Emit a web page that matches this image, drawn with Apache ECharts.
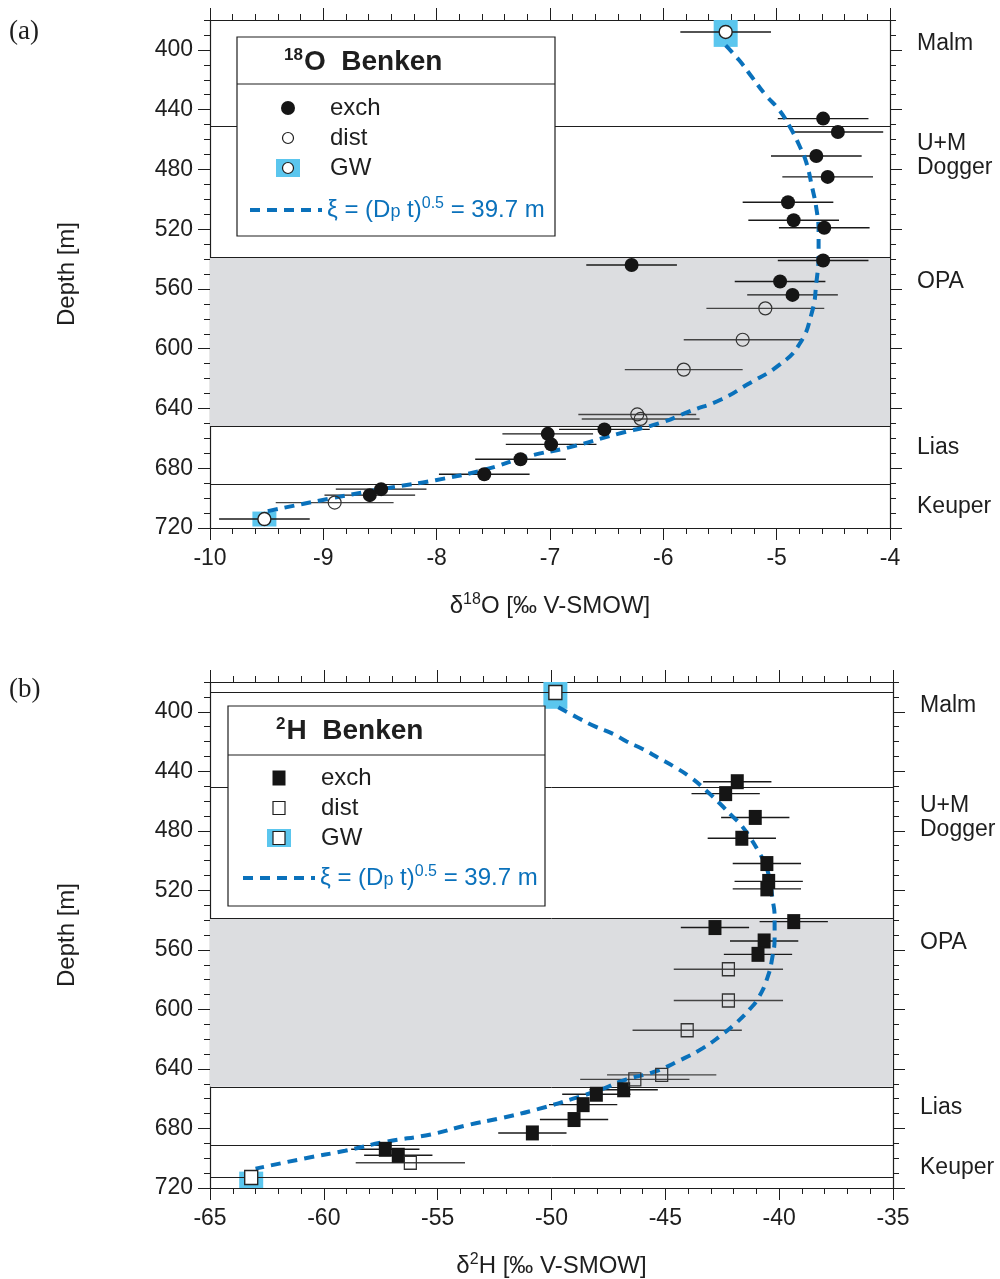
<!DOCTYPE html>
<html><head><meta charset="utf-8">
<script src="https://cdn.jsdelivr.net/npm/echarts@6/dist/echarts.min.js"></script>
<style>html,body{margin:0;padding:0;background:#fff}#c{width:1000px;height:1279px}</style>
</head><body><div id="c"></div>
<script>
// ---------- tick labels / annotations ----------
const depthTickLabels = [400, 440, 480, 520, 560, 600, 640, 680, 720];
const formationNames = ['Malm', 'U+M\nDogger', 'OPA', 'Lias', 'Keuper'];
const formationLabelDepths = [396, 471, 555, 666, 706];
const boundariesA = [451, 539, 652, 691];
const boundariesB = [387, 451, 539, 652, 691, 713];
const opaTop = 539, opaBottom = 652;

// ---------- panel (a): d18O ----------
const oExchX = [-4.59, -4.46, -4.65, -4.55, -4.90, -4.85, -4.58, -4.59, -6.28, -4.97, -4.86, -6.52, -7.02, -6.99, -7.26, -7.58, -8.49, -8.59];
const oExchD = [446, 455, 471, 485, 502, 514, 519, 541, 544, 555, 564, 654, 657, 664, 674, 684, 694, 698];
const oExchErr = [0.4, 0.4, 0.4, 0.4, 0.4, 0.4, 0.4, 0.4, 0.4, 0.4, 0.4, 0.4, 0.4, 0.4, 0.4, 0.4, 0.4, 0.4];
const oDistX = [-5.10, -5.30, -5.82, -6.23, -6.20, -8.90];
const oDistD = [573, 594, 614, 644, 647, 703];
const oDistErr = [0.52, 0.52, 0.52, 0.52, 0.52, 0.52];
const oGwX = [-5.45, -9.52];
const oGwD = [388, 714];
const oGwErr = [0.4, 0.4];
const oGwTop = [378, 709];
const oGwBottom = [398, 719];
const oCurveX = [-5.45, -5.33, -5.22, -5.10, -4.98, -4.88, -4.80, -4.74, -4.69, -4.65, -4.63, -4.63, -4.65, -4.69, -4.80, -4.98, -5.26, -5.49, -5.77, -6.04, -6.40, -6.83, -7.19, -7.58, -8.01, -8.41, -8.92, -9.51];
const oCurveD = [397, 407, 418, 430, 440, 452, 464, 475, 491, 506, 522, 535, 556, 576, 597, 611, 624, 634, 642, 650, 657, 666, 672, 681, 688, 693, 700, 709];

// ---------- panel (b): d2H ----------
const hExchX = [-41.84, -42.35, -41.05, -41.64, -40.54, -40.46, -40.54, -39.36, -42.82, -40.66, -40.93, -46.83, -48.03, -48.61, -49.01, -50.84, -57.30, -56.73];
const hExchD = [447, 455, 471, 485, 502, 514, 519, 541, 545, 554, 563, 654, 657, 664, 674, 683, 694, 698];
const hExchErr = [1.5, 1.5, 1.5, 1.5, 1.5, 1.5, 1.5, 1.5, 1.5, 1.5, 1.5, 1.5, 1.5, 1.5, 1.5, 1.5, 1.5, 1.5];
const hDistX = [-42.23, -42.23, -44.04, -45.16, -46.34, -56.20];
const hDistD = [573, 594, 614, 644, 647, 703];
const hDistErr = [2.4, 2.4, 2.4, 2.4, 2.4, 2.4];
const hGwX = [-49.83, -63.19];
const hGwD = [387, 713];
const hGwTop = [378, 709];
const hGwBottom = [398, 720];
const hCurveX = [-49.7, -48.85, -48.07, -47.28, -46.7, -46.0, -45.3, -44.6, -43.9, -43.2, -42.65, -42.07, -41.68, -41.3, -40.9, -40.6, -40.4, -40.3, -40.2, -40.2, -40.3, -40.5, -40.9, -41.3, -41.88, -42.6, -43.35, -44.33, -45.5, -46.7, -47.87, -49.05, -50.6, -52.2, -53.76, -55.3, -57.3, -59.07, -60.8, -63.0];
const hCurveD = [397, 404, 410, 415, 420, 425, 431, 437, 444, 453, 461, 470, 476, 484, 494, 503, 514, 525, 538, 552, 565, 578, 592, 600, 609, 618, 626, 634, 642, 647, 654, 660, 667, 673, 678, 684, 689, 695, 700, 707];

// ---------- styling ----------
const FONT = '"Liberation Sans", Arial, Helvetica, sans-serif';
const SERIF = '"Liberation Serif", "DejaVu Serif", serif';
const INK = '#1e1e1e';
const BLUE = '#0a71bb';
const GWBLUE = '#5bc6ee';
const GRAY = '#dcdde0';
const TICK_FS = 23;

const zip = (...arrs) => arrs[0].map((_, i) => arrs.map(a => a[i]));

function xAxes(gi, min, max, interval, nameRich) {
  const base = {
    gridIndex: gi, type: 'value', min, max, interval,
    splitLine: { show: false },
    axisLine: { show: true, onZero: false, lineStyle: { color: INK, width: 1.2 } },
    axisTick: { show: true, length: 12, lineStyle: { color: INK, width: 1 } },
    minorTick: { show: true, splitNumber: 5, length: 6, lineStyle: { color: INK, width: 1 } },
  };
  return [
    Object.assign({}, base, {
      position: 'bottom',
      axisLabel: { show: true, fontSize: TICK_FS, color: INK, fontFamily: FONT, margin: 19 },
      name: nameRich, nameLocation: 'middle', nameGap: 64,
      nameTextStyle: { fontSize: 24, color: INK, fontFamily: FONT,
        rich: { s: { fontSize: 16, fontFamily: FONT, color: INK, padding: [0, 0, 12, 0] } } }
    }),
    Object.assign({}, base, { position: 'top', axisLabel: { show: false } })
  ];
}

function yAxes(gi) {
  const base = { gridIndex: gi, type: 'value', inverse: true, min: 380, max: 720, interval: 10, splitLine: { show: false } };
  const line = { show: true, onZero: false, lineStyle: { color: INK, width: 1.2 } };
  return [
    Object.assign({}, base, { position: 'left', axisLine: line,
      axisTick: { show: true, length: 6, lineStyle: { color: INK } }, axisLabel: { show: false } }),
    Object.assign({}, base, { position: 'left', axisLine: { show: false },
      axisTick: { show: true, length: 12, customValues: depthTickLabels, lineStyle: { color: INK } },
      axisLabel: { show: true, customValues: depthTickLabels, fontSize: TICK_FS, color: INK, fontFamily: FONT, margin: 17 },
      name: 'Depth [m]', nameLocation: 'middle', nameRotate: 90, nameGap: 131,
      nameTextStyle: { fontSize: 24, color: INK, fontFamily: FONT } }),
    Object.assign({}, base, { position: 'right', axisLine: line,
      axisTick: { show: true, length: 6, lineStyle: { color: INK } }, axisLabel: { show: false } }),
    Object.assign({}, base, { position: 'right', axisLine: { show: false },
      axisTick: { show: true, length: 12, customValues: depthTickLabels, lineStyle: { color: INK } },
      axisLabel: { show: true, customValues: formationLabelDepths, fontSize: TICK_FS, lineHeight: 24, color: INK, fontFamily: FONT, margin: 27,
        formatter: v => formationNames[formationLabelDepths.indexOf(v)] || '' } })
  ];
}

function errSeries(gi, xs, ds, es, color, width) {
  return {
    type: 'custom', xAxisIndex: 2 * gi, yAxisIndex: 4 * gi + 1, z: 3, silent: true,
    data: zip(xs, ds, es), encode: { x: 0, y: 1 },
    renderItem(params, api) {
      const x = api.value(0), d = api.value(1), e = api.value(2);
      const p1 = api.coord([x - e, d]), p2 = api.coord([x + e, d]);
      return { type: 'line', shape: { x1: p1[0], y1: p1[1], x2: p2[0], y2: p2[1] },
        style: { stroke: color, lineWidth: width } };
    }
  };
}

function gwRectSeries(gi, xs, tops, bottoms) {
  return {
    type: 'custom', xAxisIndex: 2 * gi, yAxisIndex: 4 * gi + 1, z: 2, silent: true,
    data: zip(xs, tops, bottoms), encode: { x: 0, y: [1, 2] },
    renderItem(params, api) {
      const x = api.value(0);
      const p1 = api.coord([x, api.value(1)]), p2 = api.coord([x, api.value(2)]);
      const cs = params.coordSys;
      const shape = echarts.graphic.clipRectByRect(
        { x: p1[0] - 12, y: Math.min(p1[1], p2[1]), width: 24, height: Math.abs(p2[1] - p1[1]) },
        { x: cs.x, y: cs.y, width: cs.width, height: cs.height });
      return shape && { type: 'rect', shape, style: { fill: GWBLUE } };
    }
  };
}

function bgSeries(gi, bounds) {
  return {
    type: 'line', xAxisIndex: 2 * gi, yAxisIndex: 4 * gi + 1, data: [], z: 1, silent: true,
    markArea: { silent: true, itemStyle: { color: GRAY }, data: [[{ yAxis: opaTop }, { yAxis: opaBottom }]] },
    markLine: { silent: true, symbol: 'none', label: { show: false },
      lineStyle: { color: INK, width: 1, type: 'solid' },
      data: bounds.map(v => ({ yAxis: v })) }
  };
}

function scatter(gi, name, xs, ds, symbol, size, itemStyle) {
  return { type: 'scatter', name, xAxisIndex: 2 * gi, yAxisIndex: 4 * gi + 1, z: 6,
    symbol, symbolSize: size, itemStyle: Object.assign({ opacity: 1 }, itemStyle), data: zip(xs, ds), silent: true };
}

function curve(gi, xs, ds) {
  return { type: 'line', name: 'model', xAxisIndex: 2 * gi, yAxisIndex: 4 * gi + 1, z: 5,
    data: zip(xs, ds), showSymbol: false, symbol: 'none', smooth: 0.5,
    lineStyle: { color: BLUE, width: 4, type: [10, 7] }, silent: true };
}

// ---------- legends (graphic) ----------
const legendText = (x, y, text) => ({ type: 'text', z: 101, x, y,
  style: { text, fill: INK, fontSize: 24, fontFamily: FONT, verticalAlign: 'middle', align: 'left' } });

function legendBlock(L, kind) {
  const els = [];
  els.push({ type: 'rect', z: 100, shape: { x: L.x, y: L.y, width: L.w, height: L.h },
    style: { fill: '#fff', stroke: INK, lineWidth: 1.2 } });
  els.push({ type: 'line', z: 101, shape: { x1: L.x, y1: L.div, x2: L.x + L.w, y2: L.div },
    style: { stroke: INK, lineWidth: 1.2 } });
  els.push({ type: 'text', z: 101, x: L.tx, y: L.ty, style: {
    text: kind === 'O' ? '{s|18}{b|O  Benken}' : '{s|2}{b|H  Benken}',
    verticalAlign: 'middle', fill: INK,
    rich: { s: { fontSize: 17, fontWeight: 'bold', fontFamily: FONT, fill: INK, padding: [0, 1, 13, 0] },
            b: { fontSize: 28, fontWeight: 'bold', fontFamily: FONT, fill: INK } } } });
  const mx = L.mx;
  if (kind === 'O') {
    els.push({ type: 'circle', z: 101, shape: { cx: mx, cy: L.r[0], r: 7 }, style: { fill: '#151515' } });
    els.push({ type: 'circle', z: 101, shape: { cx: mx, cy: L.r[1], r: 5.5 }, style: { fill: '#fff', stroke: INK, lineWidth: 1.2 } });
    els.push({ type: 'rect', z: 101, shape: { x: mx - 12, y: L.r[2] - 9, width: 24, height: 18 }, style: { fill: GWBLUE } });
    els.push({ type: 'circle', z: 102, shape: { cx: mx, cy: L.r[2], r: 5.5 }, style: { fill: '#fff', stroke: INK, lineWidth: 1.2 } });
  } else {
    els.push({ type: 'rect', z: 101, shape: { x: mx - 6.5, y: L.r[0] - 7.5, width: 13, height: 15 }, style: { fill: '#151515' } });
    els.push({ type: 'rect', z: 101, shape: { x: mx - 6, y: L.r[1] - 6.5, width: 12, height: 13 }, style: { fill: '#fff', stroke: INK, lineWidth: 1.2 } });
    els.push({ type: 'rect', z: 101, shape: { x: mx - 12, y: L.r[2] - 9, width: 24, height: 18 }, style: { fill: GWBLUE } });
    els.push({ type: 'rect', z: 102, shape: { x: mx - 6, y: L.r[2] - 6.5, width: 12, height: 13 }, style: { fill: '#fff', stroke: INK, lineWidth: 1.2 } });
  }
  els.push(legendText(L.lx, L.r[0], 'exch'));
  els.push(legendText(L.lx, L.r[1], 'dist'));
  els.push(legendText(L.lx, L.r[2], 'GW'));
  els.push({ type: 'line', z: 101, shape: { x1: L.dx1, y1: L.dy, x2: L.dx2, y2: L.dy },
    style: { stroke: BLUE, lineWidth: 4, lineDash: [10, 7] } });
  els.push({ type: 'text', z: 101, x: L.dx2 + 5, y: L.dy, style: {
    text: 'ξ = (D{p|p} t){s|0.5} = 39.7 m', fill: BLUE, fontSize: 24, fontFamily: FONT, verticalAlign: 'middle',
    rich: { p: { fontSize: 18, fill: BLUE, fontFamily: FONT, padding: [4, 0, 0, 0] },
            s: { fontSize: 16, fill: BLUE, fontFamily: FONT, padding: [0, 0, 13, 0] } } } });
  return els;
}

const legendA = { x: 237, y: 37, w: 318, h: 199, div: 84, tx: 284, ty: 62, mx: 288, lx: 330, r: [108, 138, 168], dx1: 250, dx2: 322, dy: 210 };
const legendB = { x: 228, y: 706, w: 317, h: 200, div: 755, tx: 276, ty: 731, mx: 279, lx: 321, r: [778, 808, 838], dx1: 243, dx2: 315, dy: 878 };

const option = {
  animation: false,
  backgroundColor: '#fff',
  grid: [
    { left: 210, width: 680, top: 20, height: 508, containLabel: false },
    { left: 210, width: 683, top: 682, height: 508, containLabel: false }
  ],
  xAxis: [
    ...xAxes(0, -10, -4, 1, 'δ{s|18}O [‰ V-SMOW]'),
    ...xAxes(1, -65, -35, 5, 'δ{s|2}H [‰ V-SMOW]')
  ],
  yAxis: [...yAxes(0), ...yAxes(1)],
  series: [
    bgSeries(0, boundariesA),
    gwRectSeries(0, oGwX, oGwTop, oGwBottom),
    errSeries(0, oExchX, oExchD, oExchErr, '#1a1a1a', 1.4),
    errSeries(0, oDistX, oDistD, oDistErr, '#444', 1.4),
    errSeries(0, oGwX, oGwD, oGwErr, '#1a1a1a', 1.4),
    curve(0, oCurveX, oCurveD),
    scatter(0, 'exch', oExchX, oExchD, 'circle', 14, { color: '#151515' }),
    scatter(0, 'dist', oDistX, oDistD, 'circle', 13, { color: 'rgba(0,0,0,0)', borderColor: '#333', borderWidth: 1.2 }),
    scatter(0, 'GW', oGwX, oGwD, 'circle', 13, { color: '#fff', borderColor: '#222', borderWidth: 1.4 }),

    bgSeries(1, boundariesB),
    gwRectSeries(1, hGwX, hGwTop, hGwBottom),
    errSeries(1, hExchX, hExchD, hExchErr, '#1a1a1a', 1.4),
    errSeries(1, hDistX, hDistD, hDistErr, '#444', 1.4),
    curve(1, hCurveX, hCurveD),
    scatter(1, 'exch', hExchX, hExchD, 'rect', [13, 15], { color: '#151515' }),
    scatter(1, 'dist', hDistX, hDistD, 'rect', [12, 13], { color: 'rgba(0,0,0,0)', borderColor: '#333', borderWidth: 1.3 }),
    scatter(1, 'GW', hGwX, hGwD, 'rect', [13, 14], { color: '#fff', borderColor: '#222', borderWidth: 1.4 })
  ],
  graphic: [
    { type: 'text', x: 9, y: 32, style: { text: '(a)', fontSize: 27, fontFamily: SERIF, fill: INK, verticalAlign: 'middle' } },
    { type: 'text', x: 9, y: 690, style: { text: '(b)', fontSize: 27, fontFamily: SERIF, fill: INK, verticalAlign: 'middle' } },
    ...legendBlock(legendA, 'O'),
    ...legendBlock(legendB, 'H')
  ]
};

const chart = echarts.init(document.getElementById('c'), null, { renderer: 'canvas' });
chart.setOption(option);
</script>
</body></html>
